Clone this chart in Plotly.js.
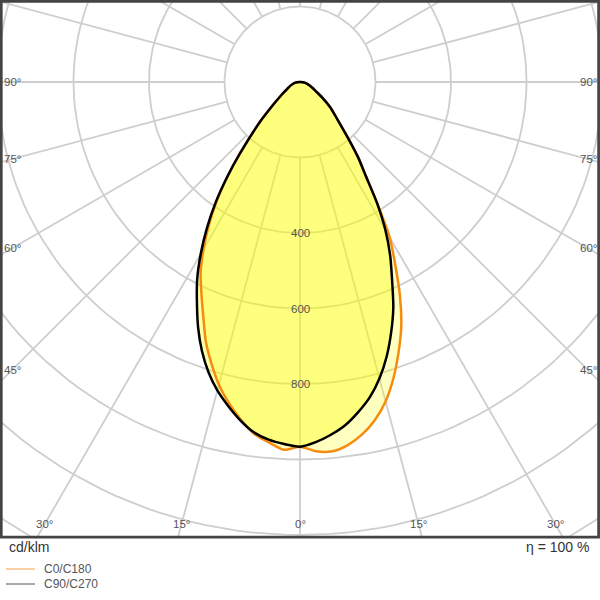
<!DOCTYPE html>
<html><head><meta charset="utf-8">
<script src="https://cdn.plot.ly/plotly-3.0.1.min.js"></script>
<style>html,body{margin:0;padding:0;background:#fff}</style>
</head><body><div id="chart" style="width:600px;height:600px"></div>
<script>
// gamma angles (deg from nadir) and intensities (cd/klm)
const gamma = [0,2.5,5,7.5,10,12.5,15,17.5,20,22.5,25,27.5,30,32.5,35,37.5,40,45,50,55,60,65,70,75,80,85,90];
const c0   = [966,979,982,970,948,917,876,823,763,701,627,547,475,380,304,255,206,140,105,72,48,36,27,20,14,8,0];
const c180 = [966,975,958,939,907,871,830,781,730,670,618,570,511,449,384,314,248,151,90,60,42,33,26,20,14,8,0];
const c90  = [966,955,938,917,888,855,813,763,706,646,577,517,452,379,304,255,206,140,105,72,48,36,27,20,14,8,0];
const c270 = [966,960,951,936,910,879,846,806,759,705,646,590,526,459,390,317,248,151,90,60,42,33,26,20,14,8,0];
const ringValues = [200,400,600,800,1000,1200,1400,1600];
const rayAngles = [0,15,30,45,60,75,90,105,120,135,150,165,180,195,210,225,240,255,270,285,300,315,330,345];
const ringLabels = [400,600,800];
const angleLabels = [0,15,30,45,60,75,90];
const legendNames = ['C0/C180','C90/C270'];

// layout geometry (pixels)
const W = 600, PH = 538, CX = 300, CY = 82, S = 0.3775; // px per cd/klm
const xr = [-CX/S, (W-CX)/S];
const yr = [-(PH-CY)/S, CY/S];
const rad = d => d*Math.PI/180;

function outline(left, right){
  const xs=[], ys=[];
  for(let i=gamma.length-1;i>=0;i--){const g=rad(gamma[i]);xs.push(-left[i]*Math.sin(g));ys.push(-left[i]*Math.cos(g));}
  for(let i=1;i<gamma.length;i++){const g=rad(gamma[i]);xs.push(right[i]*Math.sin(g));ys.push(-right[i]*Math.cos(g));}
  return {xs,ys};
}

// grid
const gx=[], gy=[];
ringValues.forEach(r=>{for(let a=0;a<=360;a+=2){gx.push(r*Math.sin(rad(a)));gy.push(-r*Math.cos(rad(a)));}gx.push(null);gy.push(null);});
rayAngles.forEach(a=>{const s=Math.sin(rad(a)),c=Math.cos(rad(a));gx.push(200*s,3000*s,null);gy.push(-200*c,-3000*c,null);});

const o = outline(c180, c0);
const b = outline(c270, c90);
const gridStyle = {color:'rgb(206,206,206)', width:1.8};
const traces = [
  {x:gx,y:gy,mode:'lines',line:gridStyle,hoverinfo:'skip',showlegend:false},
  {x:o.xs,y:o.ys,mode:'none',fill:'toself',fillcolor:'rgba(255,255,0,0.25)',hoverinfo:'skip',showlegend:false},
  {x:b.xs,y:b.ys,mode:'none',fill:'toself',fillcolor:'rgba(255,255,0,0.34)',hoverinfo:'skip',showlegend:false},
  {x:o.xs,y:o.ys,mode:'lines',line:{color:'rgb(245,140,15)',width:2.5,shape:'spline',smoothing:0.7},name:legendNames[0],showlegend:false},
  {x:b.xs,y:b.ys,mode:'lines',line:{color:'#000',width:2.5,shape:'spline',smoothing:0.7},name:legendNames[1],showlegend:false}
];

const annotations = [];
const lblFont = {family:'Liberation Sans, Arial, sans-serif', size:11.5, color:'#555'};
ringLabels.forEach(r=>annotations.push({x:0,y:-r,xref:'x',yref:'y',text:String(r),showarrow:false,font:lblFont}));
const sideT = (CX-12)/S, botT = (524-CY)/S;
angleLabels.forEach(a=>{
  const s=Math.sin(rad(a)), c=Math.cos(rad(a));
  const t = Math.min(s>0?sideT/s:Infinity, c>0.001?botT/c:Infinity);
  const sides = a===0?[1]:[-1,1];
  sides.forEach(sg=>annotations.push({x:sg*t*s,y:-t*c,xref:'x',yref:'y',text:a+'°',showarrow:false,font:lblFont}));
});
const py = p => (PH-p)/PH;
const txtFont = {family:'Liberation Sans, Arial, sans-serif', size:14, color:'#333'};
annotations.push({x:7/W,y:py(546.5),xref:'paper',yref:'paper',xanchor:'left',yanchor:'middle',text:'cd/klm',showarrow:false,font:txtFont});
annotations.push({x:591/W,y:py(547),xref:'paper',yref:'paper',xanchor:'right',yanchor:'middle',text:'η = 100 %',showarrow:false,font:txtFont});
const legFont = {family:'Liberation Sans, Arial, sans-serif', size:12, color:'#555'};
annotations.push({x:42/W,y:py(569),xref:'paper',yref:'paper',xanchor:'left',yanchor:'middle',text:legendNames[0],showarrow:false,font:legFont});
annotations.push({x:42/W,y:py(584),xref:'paper',yref:'paper',xanchor:'left',yanchor:'middle',text:legendNames[1],showarrow:false,font:legFont});

const shapes = [
  {type:'rect',xref:'paper',yref:'paper',x0:1.3/W,x1:598.6/W,y0:py(537.2),y1:py(1.3),line:{color:'#444',width:2.7}},
  {type:'line',xref:'paper',yref:'paper',x0:6/W,x1:35/W,y0:py(569),y1:py(569),line:{color:'rgb(245,160,70)',width:1}},
  {type:'line',xref:'paper',yref:'paper',x0:6/W,x1:35/W,y0:py(584),y1:py(584),line:{color:'#555',width:1}}
];

const layout = {
  width:600,height:600,margin:{l:0,r:0,t:0,b:600-PH,pad:0},
  paper_bgcolor:'#fff',plot_bgcolor:'#fff',showlegend:false,
  xaxis:{range:xr,visible:false,fixedrange:true},
  yaxis:{range:yr,visible:false,fixedrange:true},
  annotations, shapes
};
Plotly.newPlot('chart', traces, layout, {displayModeBar:false, staticPlot:true});
</script></body></html>
